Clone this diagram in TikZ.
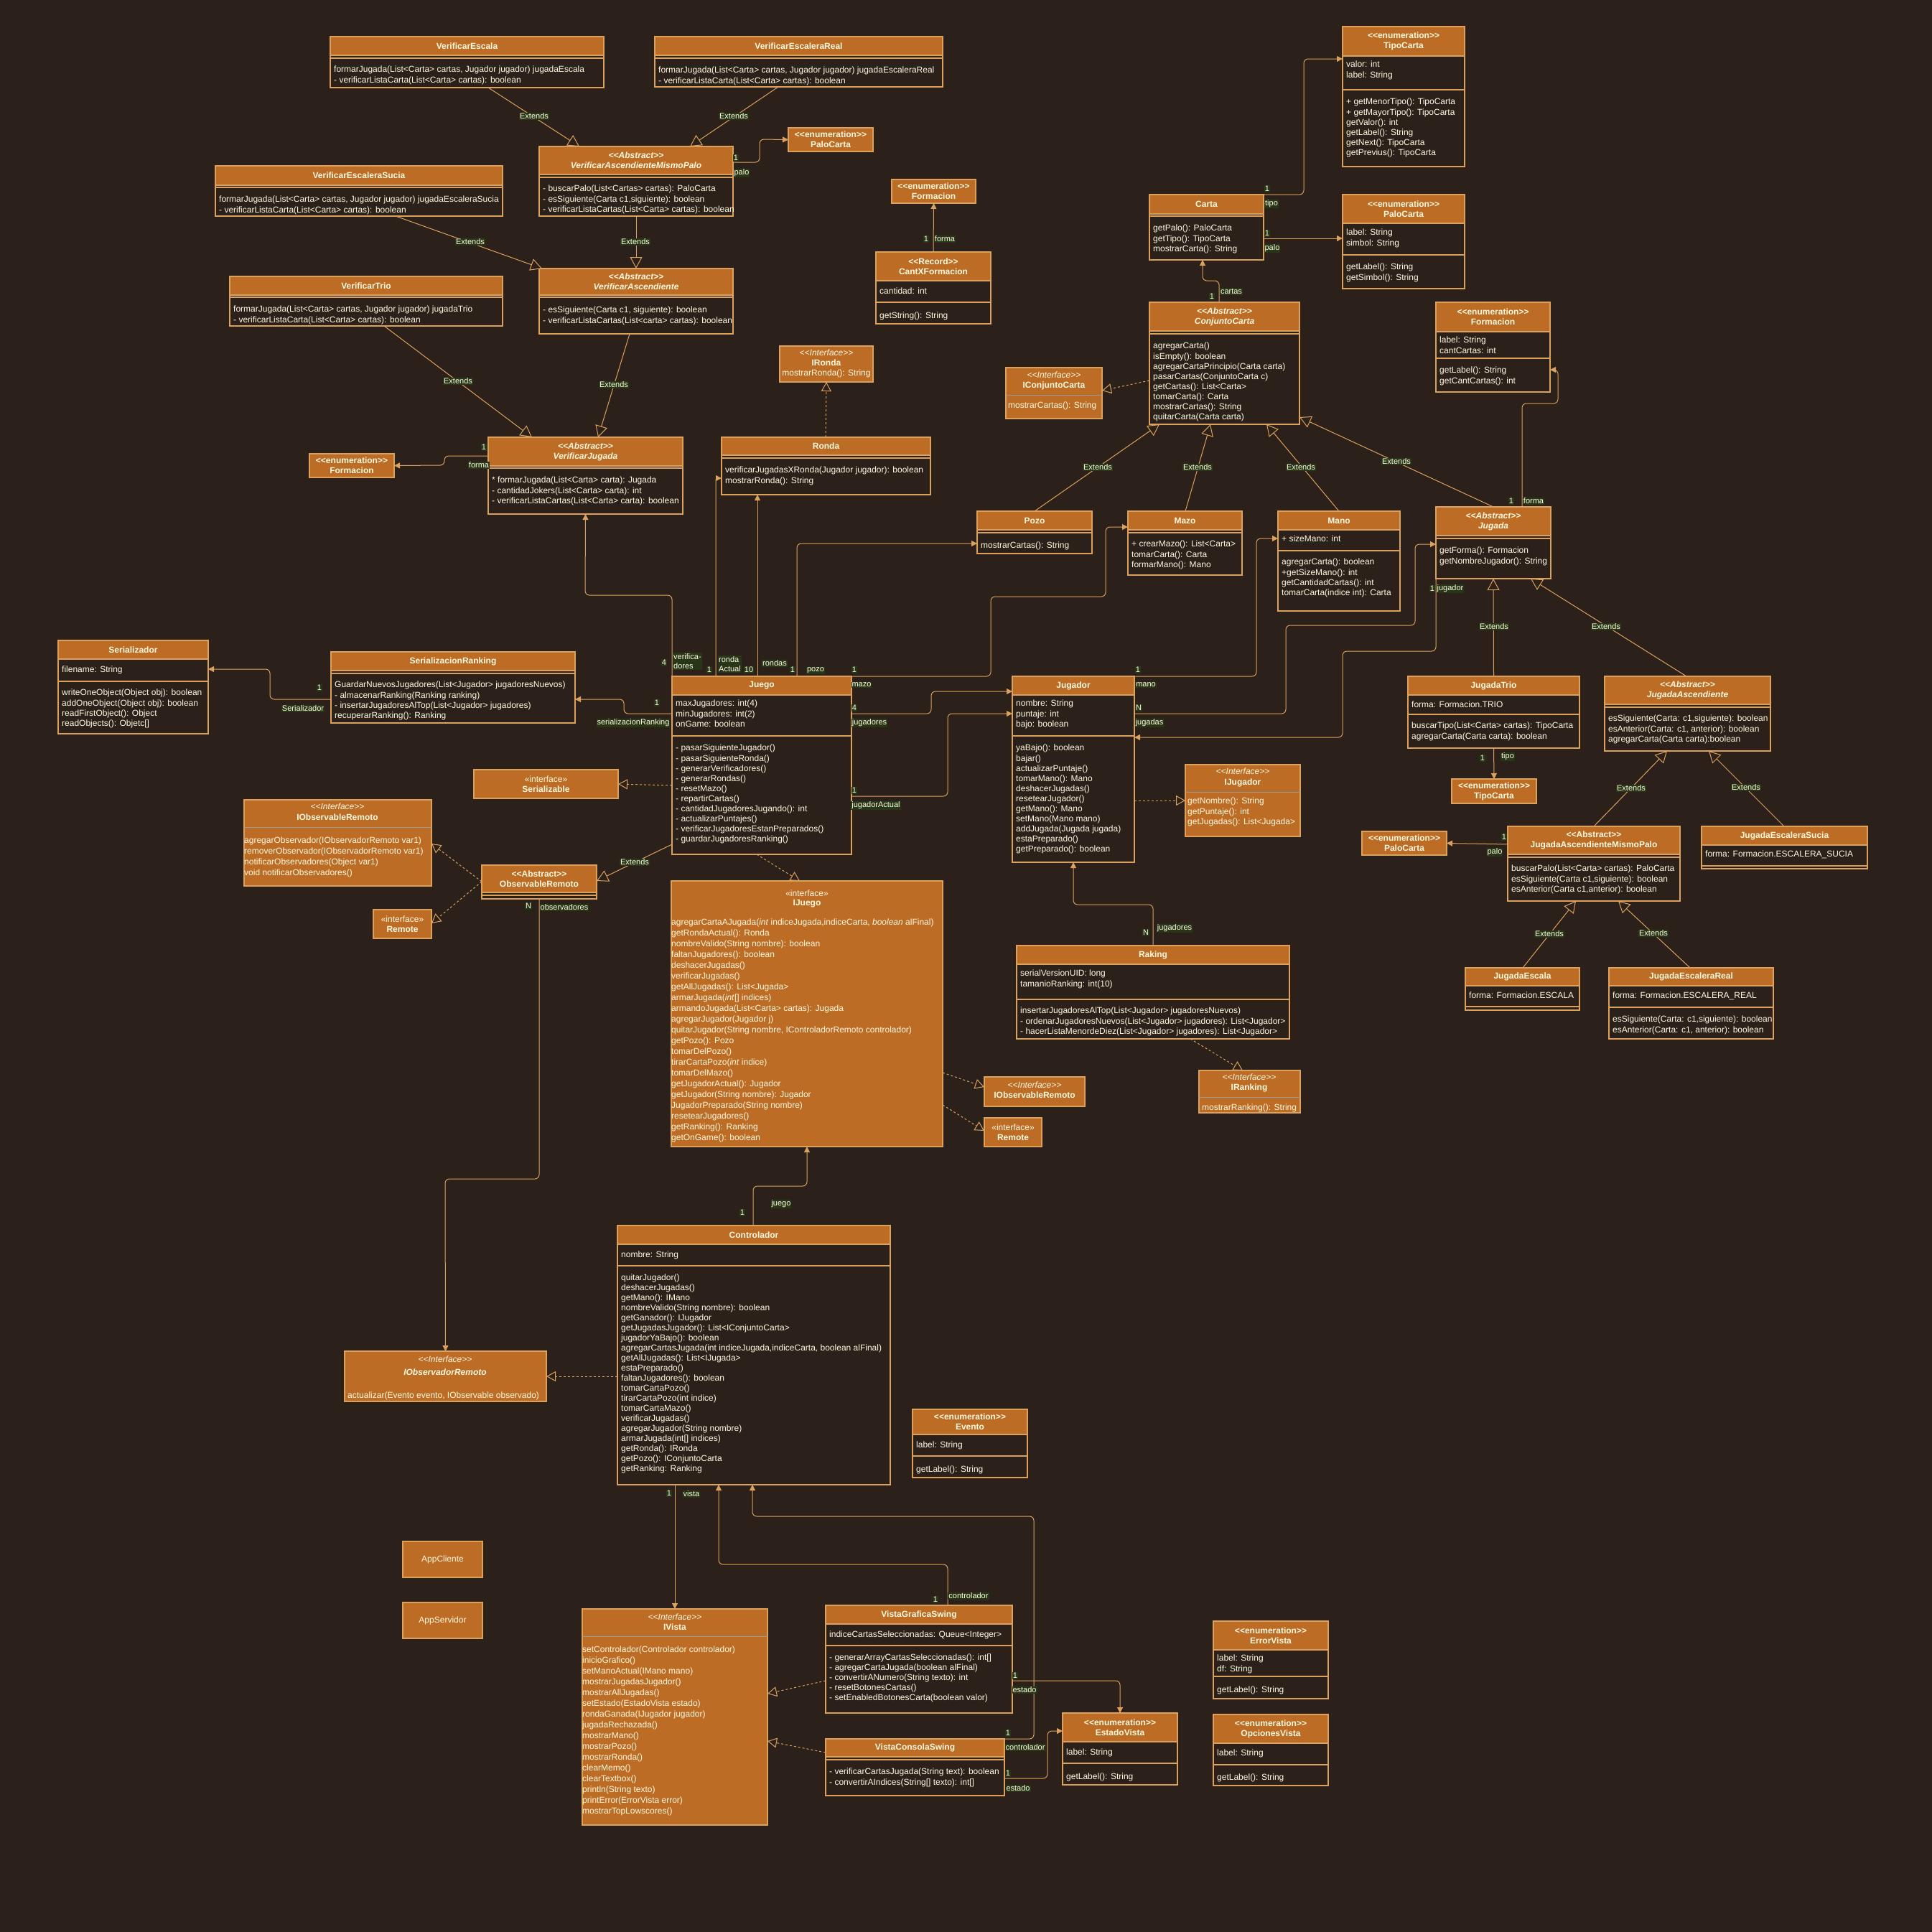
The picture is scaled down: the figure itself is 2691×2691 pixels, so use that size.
\documentclass[tikz,border=0pt]{standalone}
\usepackage{fontspec}
\setmainfont{Liberation Sans}
\usetikzlibrary{arrows.meta}
\definecolor{bg}{HTML}{2B211A}
\definecolor{hdr}{HTML}{BC6C25}
\definecolor{ln}{HTML}{DDA15E}
\definecolor{fg}{HTML}{FEFAE0}
\definecolor{lbl}{HTML}{283618}
\definecolor{gsep}{HTML}{9A9A9A}
\newcommand{\stereo}[1]{<\kern0pt<#1>\kern0pt>}
\begin{document}
\begin{tikzpicture}[x=1pt, y=-1pt,
    frame/.style={draw=ln, line width=1.2pt, anchor=north west, inner sep=0pt, outer sep=0pt},
    hd/.style={frame, fill=hdr, text=fg, align=center, font=\bfseries\fontsize{12}{14}\selectfont},
    iface/.style={frame, fill=hdr},
    itx/.style={text=fg, inner sep=0pt, align=center, font=\fontsize{12}{14}\selectfont},
    txt/.style={text=fg, anchor=north west, inner sep=0pt, align=left, font=\fontsize{12}{14.1}\selectfont, execute at begin node=\strut},
    lab/.style={fill=lbl, text=fg, inner sep=1pt, font=\fontsize{11}{13}\selectfont},
    sep/.style={draw=ln, line width=1.2pt},
    gline/.style={draw=gsep, line width=1pt},
    link/.style={draw=ln, line width=1pt, rounded corners=6pt},
    assoc/.style={link, -{Triangle[length=8pt, width=8pt]}},
    ext/.style={link, -{Triangle[length=16pt, width=17pt, fill=bg]}},
    impl/.style={link, dashed, -{Triangle[length=13pt, width=14pt, fill=bg]}}]
\useasboundingbox (0,0) rectangle (2691,2691);
\fill[bg] (0,0) rectangle (2691,2691);

\node[frame, minimum width=381pt, minimum height=71pt] (vesc) at (460,51) {};
\node[hd, minimum width=381pt, minimum height=26pt] (vescH) at (460,51) {VerificarEscala};
\draw[sep] (460,81) -- (841,81);
\node[txt] (vescM) at (465,92) {formarJugada(List<Carta> cartas, Jugador jugador) jugadaEscala\\- verificarListaCarta(List<Carta> cartas): boolean};

\node[frame, minimum width=401pt, minimum height=70pt] (vreal) at (912,51) {};
\node[hd, minimum width=401pt, minimum height=26pt] (vrealH) at (912,51) {VerificarEscaleraReal};
\draw[sep] (912,81) -- (1313,81);
\node[txt] (vrealM) at (917,93) {formarJugada(List<Carta> cartas, Jugador jugador) jugadaEscaleraReal\\- verificarListaCarta(List<Carta> cartas): boolean};

\node[frame, minimum width=270pt, minimum height=97pt] (vamp) at (751,204) {};
\node[hd, minimum width=270pt, minimum height=39pt] (vampH) at (751,204) {\textit{\stereo{Abstract}}\\\textit{VerificarAscendienteMismoPalo}};
\draw[sep] (751,247) -- (1021,247);
\node[txt] (vampM) at (756,258) {- buscarPalo(List<Cartas> cartas): PaloCarta\\- esSiguiente(Carta c1,siguiente): boolean\\- verificarListaCartas(List<Carta> cartas): boolean};

\node[frame, minimum width=400pt, minimum height=70pt] (vsucia) at (300,231) {};
\node[hd, minimum width=400pt, minimum height=27pt] (vsuciaH) at (300,231) {VerificarEscaleraSucia};
\draw[sep] (300,261) -- (700,261);
\node[txt] (vsuciaM) at (305,273) {formarJugada(List<Carta> cartas, Jugador jugador) jugadaEscaleraSucia\\- verificarListaCarta(List<Carta> cartas): boolean};

\node[frame, minimum width=270pt, minimum height=91pt] (vasc) at (751,374) {};
\node[hd, minimum width=270pt, minimum height=37pt] (vascH) at (751,374) {\textit{\stereo{Abstract}}\\\textit{VerificarAscendiente}};
\draw[sep] (751,414) -- (1021,414);
\node[txt] (vascM) at (756,427) {- esSiguiente(Carta c1, siguiente): boolean\\- verificarListaCartas(List<carta> cartas): boolean};

\node[frame, minimum width=380pt, minimum height=69pt] (vtrio) at (320,385) {};
\node[hd, minimum width=380pt, minimum height=26pt] (vtrioH) at (320,385) {VerificarTrio};
\draw[sep] (320,414) -- (700,414);
\node[txt] (vtrioM) at (325,426) {formarJugada(List<Carta> cartas, Jugador jugador) jugadaTrio\\- verificarListaCarta(List<Carta> cartas): boolean};

\node[frame, minimum width=271pt, minimum height=107pt] (vjug) at (680,609) {};
\node[hd, minimum width=271pt, minimum height=40pt] (vjugH) at (680,609) {\textit{\stereo{Abstract}}\\\textit{VerificarJugada}};
\draw[sep] (680,652) -- (951,652);
\node[txt] (vjugM) at (685,664) {* formarJugada(List<Carta> carta): Jugada\\- cantidadJokers(List<Carta> carta): int\\- verificarListaCartas(List<Carta> carta): boolean};

\node[hd, minimum width=118pt, minimum height=33pt] (formA) at (431,632) {\stereo{enumeration}\\Formacion};
\node[hd, minimum width=118pt, minimum height=33pt] (paloA) at (1098,178) {\stereo{enumeration}\\PaloCarta};
\node[hd, minimum width=117pt, minimum height=33pt] (formB) at (1242,250) {\stereo{enumeration}\\Formacion};

\node[frame, minimum width=160pt, minimum height=100pt] (cantx) at (1220,351) {};
\node[hd, minimum width=160pt, minimum height=40pt] (cantxH) at (1220,351) {\stereo{Record}\\CantXFormacion};
\node[txt] (cantxA) at (1225,399) {cantidad: int};
\draw[sep] (1220,421) -- (1380,421);
\node[txt] (cantxM) at (1225,433) {getString(): String};

\node[frame, minimum width=170pt, minimum height=195pt] (tipo) at (1870,37) {};
\node[hd, minimum width=170pt, minimum height=41pt] (tipoH) at (1870,37) {\stereo{enumeration}\\TipoCarta};
\node[txt] (tipoA) at (1875,85) {valor: int\\label: String};
\draw[sep] (1870,125) -- (2040,125);
\node[txt] (tipoM) at (1875,137) {+ getMenorTipo(): TipoCarta\\+ getMayorTipo(): TipoCarta\\getValor(): int\\getLabel(): String\\getNext(): TipoCarta\\getPrevius(): TipoCarta};

\node[frame, minimum width=159pt, minimum height=91pt] (carta) at (1601,271) {};
\node[hd, minimum width=159pt, minimum height=27pt] (cartaH) at (1601,271) {Carta};
\draw[sep] (1601,301) -- (1760,301);
\node[txt] (cartaM) at (1606,313) {getPalo(): PaloCarta\\getTipo(): TipoCarta\\mostrarCarta(): String};

\node[frame, minimum width=170pt, minimum height=131pt] (paloB) at (1870,271) {};
\node[hd, minimum width=170pt, minimum height=40pt] (paloBH) at (1870,271) {\stereo{enumeration}\\PaloCarta};
\node[txt] (paloBA) at (1875,319) {label: String\\simbol: String};
\draw[sep] (1870,355) -- (2040,355);
\node[txt] (paloBM) at (1875,367) {getLabel(): String\\getSimbol(): String};

\node[frame, minimum width=209pt, minimum height=170pt] (conj) at (1601,421) {};
\node[hd, minimum width=209pt, minimum height=40pt] (conjH) at (1601,421) {\textit{\stereo{Abstract}}\\\textit{ConjuntoCarta}};
\draw[sep] (1601,465) -- (1810,465);
\node[txt] (conjM) at (1606,477) {agregarCarta()\\isEmpty(): boolean\\agregarCartaPrincipio(Carta carta)\\pasarCartas(ConjuntoCarta c)\\getCartas(): List<Carta>\\tomarCarta(): Carta\\mostrarCartas(): String\\quitarCarta(Carta carta)};

\node[iface, minimum width=130pt, minimum height=50pt] (ironda) at (1086,482) {};
\node[itx] (irondaT) at (1151,506) {\textit{\stereo{Interface}}\\\textbf{IRonda}\\mostrarRonda(): String};

\node[iface, minimum width=134pt, minimum height=71pt] (iconj) at (1401,512) {};
\draw[gline] (1401,550) -- (1535,550);
\node[itx] (iconjT) at (1468,530) {\textit{\stereo{Interface}}\\\textbf{IConjuntoCarta}};
\node[txt] (iconjM) at (1404,558) {mostrarCartas(): String};

\node[frame, minimum width=159pt, minimum height=125pt] (formC) at (2000,421) {};
\node[hd, minimum width=159pt, minimum height=41pt] (formCH) at (2000,421) {\stereo{enumeration}\\Formacion};
\node[txt] (formCA) at (2005,469) {label: String\\cantCartas: int};
\draw[sep] (2000,499) -- (2159,499);
\node[txt] (formCM) at (2005,511) {getLabel(): String\\getCantCartas(): int};

\node[frame, minimum width=291pt, minimum height=80pt] (ronda) at (1005,609) {};
\node[hd, minimum width=291pt, minimum height=25pt] (rondaH) at (1005,609) {Ronda};
\draw[sep] (1005,638) -- (1296,638);
\node[txt] (rondaM) at (1010,650) {verificarJugadasXRonda(Jugador jugador): boolean\\mostrarRonda(): String};

\node[frame, minimum width=160pt, minimum height=59pt] (pozo) at (1361,712) {};
\node[hd, minimum width=160pt, minimum height=26pt] (pozoH) at (1361,712) {Pozo};
\draw[sep] (1361,742) -- (1521,742);
\node[txt] (pozoM) at (1366,753) {mostrarCartas(): String};

\node[frame, minimum width=159pt, minimum height=89pt] (mazo) at (1571,712) {};
\node[hd, minimum width=159pt, minimum height=26pt] (mazoH) at (1571,712) {Mazo};
\draw[sep] (1571,742) -- (1730,742);
\node[txt] (mazoM) at (1576,753) {+ crearMazo(): List<Carta>\\tomarCarta(): Carta\\formarMano(): Mano};

\node[frame, minimum width=170pt, minimum height=139pt] (mano) at (1780,712) {};
\node[hd, minimum width=170pt, minimum height=26pt] (manoH) at (1780,712) {Mano};
\node[txt] (manoA) at (1785,744) {+ sizeMano: int};
\draw[sep] (1780,767) -- (1950,767);
\node[txt] (manoM) at (1785,778) {agregarCarta(): boolean\\+getSizeMano(): int\\getCantidadCartas(): int\\tomarCarta(indice int): Carta};

\node[frame, minimum width=160pt, minimum height=100pt] (jugada) at (2000,706) {};
\node[hd, minimum width=160pt, minimum height=40pt] (jugadaH) at (2000,706) {\textit{\stereo{Abstract}}\\\textit{Jugada}};
\draw[sep] (2000,750) -- (2160,750);
\node[txt] (jugadaM) at (2005,762) {getForma(): Formacion\\getNombreJugador(): String};

\node[frame, minimum width=209pt, minimum height=130pt] (serz) at (81,892) {};
\node[hd, minimum width=209pt, minimum height=26pt] (serzH) at (81,892) {Serializador};
\node[txt] (serzA) at (86,926) {filename: String};
\draw[sep] (81,949) -- (290,949);
\node[txt] (serzM) at (86,960) {writeOneObject(Object obj): boolean\\addOneObject(Object obj): boolean\\readFirstObject(): Object\\readObjects(): Objetc[]};

\node[frame, minimum width=340pt, minimum height=99pt] (serr) at (461,908) {};
\node[hd, minimum width=340pt, minimum height=26pt] (serrH) at (461,908) {SerializacionRanking};
\draw[sep] (461,938) -- (801,938);
\node[txt] (serrM) at (466,949) {GuardarNuevosJugadores(List<Jugador> jugadoresNuevos)\\- almacenarRanking(Ranking ranking)\\- insertarJugadoresAlTop(List<Jugador> jugadores)\\recuperarRanking(): Ranking};

\node[frame, minimum width=250pt, minimum height=248pt] (juego) at (936,942) {};
\node[hd, minimum width=250pt, minimum height=26pt] (juegoH) at (936,942) {Juego};
\node[txt] (juegoA) at (941,975) {maxJugadores: int(4)\\minJugadores: int(2)\\onGame: boolean};
\draw[sep] (936,1025) -- (1186,1025);
\node[txt] (juegoM) at (941,1037) {- pasarSiguienteJugador()\\- pasarSiguienteRonda()\\- generarVerificadores()\\- generarRondas()\\- resetMazo()\\- repartirCartas()\\- cantidadJugadoresJugando(): int\\- actualizarPuntajes()\\- verificarJugadoresEstanPreparados()\\- guardarJugadoresRanking()};

\node[frame, minimum width=170pt, minimum height=259pt] (jugador) at (1410,942) {};
\node[hd, minimum width=170pt, minimum height=26pt] (jugadorH) at (1410,942) {Jugador};
\node[txt] (jugadorA) at (1415,975) {nombre: String\\puntaje: int\\bajo: boolean};
\draw[sep] (1410,1025) -- (1580,1025);
\node[txt] (jugadorM) at (1415,1037) {yaBajo(): boolean\\bajar()\\actualizarPuntaje()\\tomarMano(): Mano\\deshacerJugadas()\\resetearJugador()\\getMano(): Mano\\setMano(Mano mano)\\addJugada(Jugada jugada)\\estaPreparado()\\getPreparado(): boolean};

\node[hd, minimum width=201pt, minimum height=40pt] (iserial) at (660,1072) {\textmd{«interface»}\\Serializable};

\node[iface, minimum width=261pt, minimum height=120pt] (iobsL) at (340,1114) {};
\draw[gline] (340,1152) -- (601,1152);
\node[itx, font=\fontsize{12}{15}\selectfont] (iobsLT) at (470,1131) {\textit{\stereo{Interface}}\\\textbf{IObservableRemoto}};
\node[txt, font=\fontsize{12}{15}\selectfont] (iobsLM) at (340,1166) {agregarObservador(IObservadorRemoto var1)\\removerObservador(IObservadorRemoto var1)\\notificarObservadores(Object var1)\\void notificarObservadores()};

\node[frame, minimum width=160pt, minimum height=47pt] (obsr) at (671,1205) {};
\node[hd, minimum width=160pt, minimum height=38pt] (obsrH) at (671,1205) {\stereo{Abstract}\\ObservableRemoto};
\draw[sep] (671,1247) -- (831,1247);

\node[hd, minimum width=81pt, minimum height=40pt] (remL) at (520,1267) {\textmd{«interface»}\\Remote};

\node[iface, minimum width=378pt, minimum height=370pt] (ijuego) at (935,1227) {};
\node[itx, font=\fontsize{12}{13.5}\selectfont] (ijuegoT) at (1124,1252) {«interface»\\\textbf{IJuego}};
\node[txt, font=\fontsize{12}{15}\selectfont] (ijuegoM) at (935,1280) {agregarCartaAJugada(\textit{int} indiceJugada,indiceCarta, \textit{boolean} alFinal)\\getRondaActual(): Ronda\\nombreValido(String nombre): boolean\\faltanJugadores(): boolean\\deshacerJugadas()\\verificarJugadas()\\getAllJugadas(): List<Jugada>\\armarJugada(\textit{int}[] indices)\\armandoJugada(List<Carta> cartas): Jugada\\agregarJugador(Jugador j)\\quitarJugador(String nombre, IControladorRemoto controlador)\\getPozo(): Pozo\\tomarDelPozo()\\tirarCartaPozo(\textit{int} indice)\\tomarDelMazo()\\getJugadorActual(): Jugador\\getJugador(String nombre): Jugador\\JugadorPreparado(String nombre)\\resetearJugadores()\\getRanking(): Ranking\\getOnGame(): boolean};

\node[iface, minimum width=140pt, minimum height=41pt] (iobsR) at (1371,1500) {};
\node[itx, font=\fontsize{12}{14.5}\selectfont] (iobsRT) at (1441,1518) {\textit{\stereo{Interface}}\\\textbf{IObservableRemoto}};
\node[hd, minimum width=80pt, minimum height=40pt] (remR) at (1371,1557) {\textmd{«interface»}\\Remote};

\node[iface, minimum width=160pt, minimum height=100pt] (ijugador) at (1651,1065) {};
\draw[gline] (1651,1103) -- (1811,1103);
\node[itx, font=\fontsize{12}{15}\selectfont] (ijugadorT) at (1731,1083) {\textit{\stereo{Interface}}\\\textbf{IJugador}};
\node[txt] (ijugadorM) at (1654,1111) {getNombre(): String\\getPuntaje(): int\\getJugadas(): List<Jugada>};

\node[frame, minimum width=380pt, minimum height=130pt] (raking) at (1416,1317) {};
\node[hd, minimum width=380pt, minimum height=26pt] (rakingH) at (1416,1317) {Raking};
\node[txt] (rakingA) at (1421,1351) {serialVersionUID: long\\tamanioRanking: int(10)};
\draw[sep] (1416,1392) -- (1796,1392);
\node[txt] (rakingM) at (1421,1403) {insertarJugadoresAlTop(List<Jugador> jugadoresNuevos)\\- ordenarJugadoresNuevos(List<Jugador> jugadores): List<Jugador>\\- hacerListaMenordeDiez(List<Jugador> jugadores): List<Jugador>};

\node[iface, minimum width=141pt, minimum height=59pt] (iranking) at (1670,1491) {};
\draw[gline] (1670,1528) -- (1811,1528);
\node[itx] (irankingT) at (1740,1508) {\textit{\stereo{Interface}}\\\textbf{IRanking}};
\node[txt] (irankingM) at (1674,1536) {mostrarRanking(): String};

\node[frame, minimum width=239pt, minimum height=100pt] (jtrio) at (1961,942) {};
\node[hd, minimum width=239pt, minimum height=26pt] (jtrioH) at (1961,942) {JugadaTrio};
\node[txt] (jtrioA) at (1966,975) {forma: Formacion.TRIO};
\draw[sep] (1961,995) -- (2200,995);
\node[txt] (jtrioM) at (1966,1006) {buscarTipo(List<Carta> cartas): TipoCarta\\agregarCarta(Carta carta): boolean};

\node[frame, minimum width=231pt, minimum height=104pt] (jasc) at (2235,942) {};
\node[hd, minimum width=231pt, minimum height=39pt] (jascH) at (2235,942) {\textit{\stereo{Abstract}}\\\textit{JugadaAscendiente}};
\draw[sep] (2235,985) -- (2466,985);
\node[txt] (jascM) at (2240,996) {esSiguiente(Carta: c1,siguiente): boolean\\esAnterior(Carta: c1, anterior): boolean\\agregarCarta(Carta carta):boolean};

\node[hd, minimum width=118pt, minimum height=34pt] (tipoB) at (2022,1085) {\stereo{enumeration}\\TipoCarta};

\node[frame, minimum width=240pt, minimum height=104pt] (jamp) at (2100,1151) {};
\node[hd, minimum width=240pt, minimum height=39pt] (jampH) at (2100,1151) {\stereo{Abstract}\\JugadaAscendienteMismoPalo};
\draw[sep] (2100,1194) -- (2340,1194);
\node[txt] (jampM) at (2105,1205) {buscarPalo(List<Carta> cartas): PaloCarta\\esSiguiente(Carta c1,siguiente): boolean\\esAnterior(Carta c1,anterior): boolean};

\node[frame, minimum width=231pt, minimum height=59pt] (jsucia) at (2370,1151) {};
\node[hd, minimum width=231pt, minimum height=26pt] (jsuciaH) at (2370,1151) {JugadaEscaleraSucia};
\node[txt] (jsuciaA) at (2375,1183) {forma: Formacion.ESCALERA\_SUCIA};
\draw[sep] (2370,1206) -- (2601,1206);

\node[hd, minimum width=118pt, minimum height=33pt] (paloC) at (1897,1158) {\stereo{enumeration}\\PaloCarta};

\node[frame, minimum width=159pt, minimum height=59pt] (jesc) at (2041,1348) {};
\node[hd, minimum width=159pt, minimum height=25pt] (jescH) at (2041,1348) {JugadaEscala};
\node[txt] (jescA) at (2046,1380) {forma: Formacion.ESCALA};
\draw[sep] (2041,1402) -- (2200,1402);

\node[frame, minimum width=229pt, minimum height=99pt] (jreal) at (2241,1348) {};
\node[hd, minimum width=229pt, minimum height=25pt] (jrealH) at (2241,1348) {JugadaEscaleraReal};
\node[txt] (jrealA) at (2246,1380) {forma: Formacion.ESCALERA\_REAL};
\draw[sep] (2241,1403) -- (2470,1403);
\node[txt] (jrealM) at (2246,1415) {esSiguiente(Carta: c1,siguiente): boolean\\esAnterior(Carta: c1, anterior): boolean};

\node[iface, minimum width=281pt, minimum height=70pt] (iobsv) at (480,1882) {};
\node[itx, font=\fontsize{12}{18}\selectfont] (iobsvT) at (620,1902) {\textit{\stereo{Interface}}\\\textbf{\textit{IObservadorRemoto}}};
\node[txt] (iobsvM) at (484,1937) {actualizar(Evento evento, IObservable observado)};

\node[frame, minimum width=380pt, minimum height=361pt] (ctrl) at (860,1707) {};
\node[hd, minimum width=380pt, minimum height=26pt] (ctrlH) at (860,1707) {Controlador};
\node[txt] (ctrlA) at (865,1741) {nombre: String};
\draw[sep] (860,1763) -- (1240,1763);
\node[txt, font=\fontsize{12}{14}\selectfont] (ctrlM) at (865,1775) {quitarJugador()\\deshacerJugadas()\\getMano(): IMano\\nombreValido(String nombre): boolean\\getGanador(): IJugador\\getJugadasJugador(): List<IConjuntoCarta>\\jugadorYaBajo(): boolean\\agregarCartasJugada(int indiceJugada,indiceCarta, boolean alFinal)\\getAllJugadas(): List<IJugada>\\estaPreparado()\\faltanJugadores(): boolean\\tomarCartaPozo()\\tirarCartaPozo(int indice)\\tomarCartaMazo()\\verificarJugadas()\\agregarJugador(String nombre)\\armarJugada(int[] indices)\\getRonda(): IRonda\\getPozo(): IConjuntoCarta\\getRanking: Ranking};

\node[frame, minimum width=160pt, minimum height=95pt] (evento) at (1271,1963) {};
\node[hd, minimum width=160pt, minimum height=35pt] (eventoH) at (1271,1963) {\stereo{enumeration}\\Evento};
\node[txt] (eventoA) at (1276,2006) {label: String};
\draw[sep] (1271,2028) -- (1431,2028);
\node[txt] (eventoM) at (1276,2040) {getLabel(): String};

\node[hd, font=\fontsize{12}{14}\selectfont, minimum width=111pt, minimum height=50pt] (appc) at (561,2147) {AppCliente};
\node[hd, font=\fontsize{12}{14}\selectfont, minimum width=111pt, minimum height=50pt] (apps) at (561,2232) {AppServidor};

\node[iface, minimum width=258pt, minimum height=301pt] (ivista) at (811,2241) {};
\draw[gline] (811,2279) -- (1069,2279);
\node[itx] (ivistaT) at (940,2259) {\textit{\stereo{Interface}}\\\textbf{IVista}};
\node[txt, font=\fontsize{12}{15}\selectfont] (ivistaM) at (811,2293) {setControlador(Controlador controlador)\\inicioGrafico()\\setManoActual(IMano mano)\\mostrarJugadasJugador()\\mostrarAllJugadas()\\setEstado(EstadoVista estado)\\rondaGanada(IJugador jugador)\\jugadaRechazada()\\mostrarMano()\\mostrarPozo()\\mostrarRonda()\\clearMemo()\\clearTextbox()\\println(String texto)\\printError(ErrorVista error)\\mostrarTopLowscores()};

\node[frame, minimum width=260pt, minimum height=150pt] (vgs) at (1150,2236) {};
\node[hd, minimum width=260pt, minimum height=26pt] (vgsH) at (1150,2236) {VistaGraficaSwing};
\node[txt] (vgsA) at (1155,2270) {indiceCartasSeleccionadas: Queue<Integer>};
\draw[sep] (1150,2292) -- (1410,2292);
\node[txt, font=\fontsize{12}{14}\selectfont] (vgsM) at (1155,2304) {- generarArrayCartasSeleccionadas(): int[]\\- agregarCartaJugada(boolean alFinal)\\- convertirANumero(String texto): int\\- resetBotonesCartas()\\- setEnabledBotonesCarta(boolean valor)};

\node[frame, minimum width=249pt, minimum height=79pt] (vcs) at (1150,2422) {};
\node[hd, minimum width=249pt, minimum height=25pt] (vcsH) at (1150,2422) {VistaConsolaSwing};
\draw[sep] (1150,2451) -- (1399,2451);
\node[txt] (vcsM) at (1155,2463) {- verificarCartasJugada(String text): boolean\\- convertirAIndices(String[] texto): int[]};

\node[frame, minimum width=160pt, minimum height=100pt] (estado) at (1480,2386) {};
\node[hd, minimum width=160pt, minimum height=40pt] (estadoH) at (1480,2386) {\stereo{enumeration}\\EstadoVista};
\node[txt] (estadoA) at (1485,2434) {label: String};
\draw[sep] (1480,2456) -- (1640,2456);
\node[txt] (estadoM) at (1485,2468) {getLabel(): String};

\node[frame, minimum width=160pt, minimum height=108pt] (errorv) at (1690,2258) {};
\node[hd, minimum width=160pt, minimum height=40pt] (errorvH) at (1690,2258) {\stereo{enumeration}\\ErrorVista};
\node[txt] (errorvA) at (1695,2305) {label: String\\df: String};
\draw[sep] (1690,2335) -- (1850,2335);
\node[txt] (errorvM) at (1695,2347) {getLabel(): String};

\node[frame, minimum width=160pt, minimum height=99pt] (opcv) at (1690,2388) {};
\node[hd, minimum width=160pt, minimum height=40pt] (opcvH) at (1690,2388) {\stereo{enumeration}\\OpcionesVista};
\node[txt] (opcvA) at (1695,2435) {label: String};
\draw[sep] (1690,2458) -- (1850,2458);
\node[txt] (opcvM) at (1695,2469) {getLabel(): String};

\draw[ext] ([xshift=220pt]vesc.south west) -- ([xshift=56pt]vamp.north west);
\draw[ext] ([xshift=172pt]vreal.south west) -- ([xshift=210pt]vamp.north west);
\draw[ext] ([xshift=251pt]vsucia.south west) -- ([xshift=4pt]vasc.north west);
\draw[ext] (vamp.south) -- (vasc.north);
\draw[ext] ([xshift=215pt]vtrio.south west) -- ([xshift=61pt]vjug.north west);
\draw[ext] ([xshift=126pt]vasc.south west) -- ([xshift=153pt]vjug.north west);
\draw[ext] ([xshift=80pt]pozo.north west) -- ([xshift=14pt]conj.south west);
\draw[ext] ([xshift=80pt]mazo.north west) -- ([xshift=85pt]conj.south west);
\draw[ext] ([xshift=85pt]mano.north west) -- ([xshift=163pt]conj.south west);
\draw[ext] ([xshift=80pt]jugada.north west) -- ([yshift=10pt]conj.south east);
\draw[ext] (jtrio.north) -- (jugada.south);
\draw[ext] ([xshift=114pt]jasc.north west) -- ([xshift=132pt]jugada.south west);
\draw[ext] ([xshift=120pt]jamp.north west) -- ([xshift=87pt]jasc.south west);
\draw[ext] ([xshift=115pt]jsucia.north west) -- ([xshift=145pt]jasc.south west);
\draw[ext] ([xshift=80pt]jesc.north west) -- ([xshift=95pt]jamp.south west);
\draw[ext] ([xshift=113pt]jreal.north west) -- ([xshift=154pt]jamp.south west);
\draw[ext] ([yshift=-234pt]juego.north west) -- ([yshift=-22pt]obsr.north east);

\draw[impl] ([xshift=145pt]ronda.north west) -- (ironda.south);
\draw[impl] ([yshift=-109pt]conj.north west) -- ([yshift=-32pt]iconj.north east);
\draw[impl] ([yshift=-152pt]juego.north west) -- (iserial.east);
\draw[impl] ([xshift=118pt]juego.south west) -- ([xshift=-10pt]ijuego.north);
\draw[impl] ([yshift=-267pt]ijuego.north east) -- ([yshift=-14pt]iobsR.north west);
\draw[impl] ([yshift=-312pt]ijuego.north east) -- ([yshift=-18pt]remR.north west);
\draw[impl] ([yshift=-23pt]obsr.north west) -- ([yshift=-61pt]iobsL.north east);
\draw[impl] ([yshift=-23pt]obsr.north west) -- ([yshift=-19pt]remL.north east);
\draw[impl] ([yshift=-173pt]jugador.north east) -- ([yshift=-50pt]ijugador.north west);
\draw[impl] ([xshift=242pt]raking.south west) -- ([xshift=61pt]iranking.north west);
\draw[impl] ([yshift=-210pt]ctrl.north west) -- ([yshift=-35pt]iobsv.north east);
\draw[impl] ([yshift=-105pt]vgs.north west) -- ([yshift=-118pt]ivista.north east);
\draw[impl] ([yshift=-19pt]vcs.north west) -- ([yshift=-184pt]ivista.north east);

\draw[assoc] ([yshift=-22pt]vamp.north east) -- (1058,226) -- (1058,194) -- (paloA.west);
\draw[assoc] ([yshift=-26pt]vjug.north west) -| (619,648) -- (formA.east);
\draw[assoc] ([xshift=80pt]cantx.north west) -- (formB.south);
\draw[assoc] (carta.north east) -| (1816,82) -- ([yshift=-45pt]tipo.north west);
\draw[assoc] ([yshift=-61pt]carta.north east) -- ([yshift=-61pt]paloB.north west);
\draw[assoc] ([xshift=97pt]conj.north west) |- (1675,391) -- ([xshift=74pt]carta.south west);
\draw[assoc] ([xshift=120pt]jugada.north west) |- (2170,562) |- ([yshift=-94pt]formC.north east);
\draw[assoc] (juego.north west) |- (815,829) -- (vjug.south);
\draw[assoc, rounded corners=2pt] ([xshift=61pt]juego.north west) |- ([yshift=-57pt]ronda.north west);
\draw[assoc] ([xshift=119pt]juego.north west) -- ([xshift=50pt]ronda.south west);
\draw[assoc] ([xshift=174pt]juego.north west) |- ([yshift=-45pt]pozo.north west);
\draw[assoc] (juego.north east) -| (1380,831) -| (1540,734) -- ([yshift=-22pt]mazo.north west);
\draw[assoc] ([yshift=-52pt]juego.north east) -| (1297,963) -- ([yshift=-21pt]jugador.north west);
\draw[assoc] ([yshift=-167pt]juego.north east) -| (1320,994) -- ([yshift=-52pt]jugador.north west);
\draw[assoc] ([yshift=-52pt]juego.north west) -| (869,974) -- ([yshift=-66pt]serr.north east);
\draw[assoc] ([yshift=-66pt]serr.north west) -| (376,932) -- ([yshift=-40pt]serz.north east);
\draw[assoc] (jugador.north east) -| (1750,750) -- ([yshift=-38pt]mano.north west);
\draw[assoc] ([yshift=-52pt]jugador.north east) -| (1791,871) -| (1971,758) -- ([yshift=-52pt]jugada.north west);
\draw[assoc] (jugada.south west) |- (1870,907) |- ([yshift=-85pt]jugador.north east);
\draw[assoc] (jtrio.south) -- (tipoB.north);
\draw[assoc] ([yshift=-25pt]jamp.north west) -- (paloC.east);
\draw[assoc] ([xshift=190pt]raking.north west) |- (1495,1260) -- (jugador.south);
\draw[assoc] ([xshift=80pt]obsr.south west) |- (620,1642) -- (iobsv.north);
\draw[assoc] ([xshift=189pt]ctrl.north west) |- (1124,1652) -- (ijuego.south);
\draw[assoc] ([xshift=80pt]ctrl.south west) -- (ivista.north);
\draw[assoc] ([xshift=170pt]vgs.north west) |- (1001,2179) -- ([xshift=141pt]ctrl.south west);
\draw[assoc] (vcs.north east) -| (1440,2112) -| ([xshift=188pt]ctrl.south west);
\draw[assoc] ([yshift=-105pt]vgs.north east) -| (estado.north);
\draw[assoc] ([yshift=-55pt]vcs.north east) -| (1459,2411) -- ([yshift=-25pt]estado.north west);

\node[lab] (e1) at (744,162) {Extends};
\node[lab] (e2) at (1022,162) {Extends};
\node[lab] (e3) at (655,337) {Extends};
\node[lab] (e4) at (885,337) {Extends};
\node[lab] (e5) at (638,531) {Extends};
\node[lab] (e6) at (855,536) {Extends};
\node[lab] (e7) at (1529,651) {Extends};
\node[lab] (e8) at (1668,651) {Extends};
\node[lab] (e9) at (1812,651) {Extends};
\node[lab] (e10) at (1945,643) {Extends};
\node[lab] (e11) at (2081,873) {Extends};
\node[lab] (e12) at (2237,873) {Extends};
\node[lab] (e13) at (2272,1098) {Extends};
\node[lab] (e14) at (2432,1097) {Extends};
\node[lab] (e15) at (2158,1301) {Extends};
\node[lab] (e16) at (2303,1300) {Extends};
\node[lab] (e17) at (884,1201) {Extends};

\node[lab] (na) at (1025,220) {1};
\node[lab] (ra) at (1033,241) {palo};
\node[lab] (nb) at (674,623) {1};
\node[lab] (rb) at (667,648) {forma};
\node[lab] (nc) at (1290,333) {1};
\node[lab] (rc) at (1316,333) {forma};
\node[lab] (nd) at (1765,263) {1};
\node[lab] (rd) at (1771,284) {tipo};
\node[lab] (ne) at (1765,325) {1};
\node[lab] (re) at (1772,346) {palo};
\node[lab] (nf) at (1688,413) {1};
\node[lab] (rf) at (1715,406) {cartas};
\node[lab] (ng) at (2105,698) {1};
\node[lab] (rg) at (2136,698) {forma};
\node[lab] (nh) at (925,923) {4};
\node[lab, align=left, anchor=west] (rh) at (937,921) {verifica-\\dores};
\node[lab] (ni) at (988,933) {1};
\node[lab, align=left, anchor=west] (ri) at (1000,925) {ronda\\Actual};
\node[lab] (nj) at (1043,933) {10};
\node[lab] (rj) at (1079,924) {rondas};
\node[lab] (nk) at (1104,933) {1};
\node[lab] (rk) at (1136,934) {pozo};
\node[lab] (nl) at (1190,933) {1};
\node[lab] (rl) at (1200,954) {mazo};
\node[lab] (nm) at (1190,986) {4};
\node[lab] (rm) at (1211,1007) {jugadores};
\node[lab] (nn) at (1190,1101) {1};
\node[lab] (rn) at (1220,1122) {jugadorActual};
\node[lab] (no) at (915,979) {1};
\node[lab] (ro) at (882,1007) {serializacionRanking};
\node[lab] (np) at (445,958) {1};
\node[lab] (rp) at (422,987) {Serializador};
\node[lab] (nq) at (1585,933) {1};
\node[lab] (rq) at (1596,954) {mano};
\node[lab] (nr) at (1586,986) {N};
\node[lab] (rr) at (1601,1007) {jugadas};
\node[lab] (ns) at (1995,820) {1};
\node[lab] (rs) at (2020,820) {jugador};
\node[lab] (nt) at (2065,1056) {1};
\node[lab] (rt) at (2100,1054) {tipo};
\node[lab] (nu) at (2095,1166) {1};
\node[lab] (ru) at (2082,1187) {palo};
\node[lab] (nv) at (1596,1299) {N};
\node[lab] (rv) at (1636,1293) {jugadores};
\node[lab] (nw) at (736,1262) {N};
\node[lab] (rw) at (786,1264) {observadores};
\node[lab] (nx) at (1034,1689) {1};
\node[lab] (rx) at (1088,1677) {juego};
\node[lab] (ny) at (932,2080) {1};
\node[lab] (ry) at (963,2081) {vista};
\node[lab] (nz) at (1303,2228) {1};
\node[lab] (rz) at (1349,2223) {controlador};
\node[lab] (naa) at (1404,2414) {1};
\node[lab] (raa) at (1428,2434) {controlador};
\node[lab] (nbb) at (1414,2334) {1};
\node[lab] (rbb) at (1427,2354) {estado};
\node[lab] (ncc) at (1404,2470) {1};
\node[lab] (rcc) at (1418,2491) {estado};
\end{tikzpicture}
\end{document}
